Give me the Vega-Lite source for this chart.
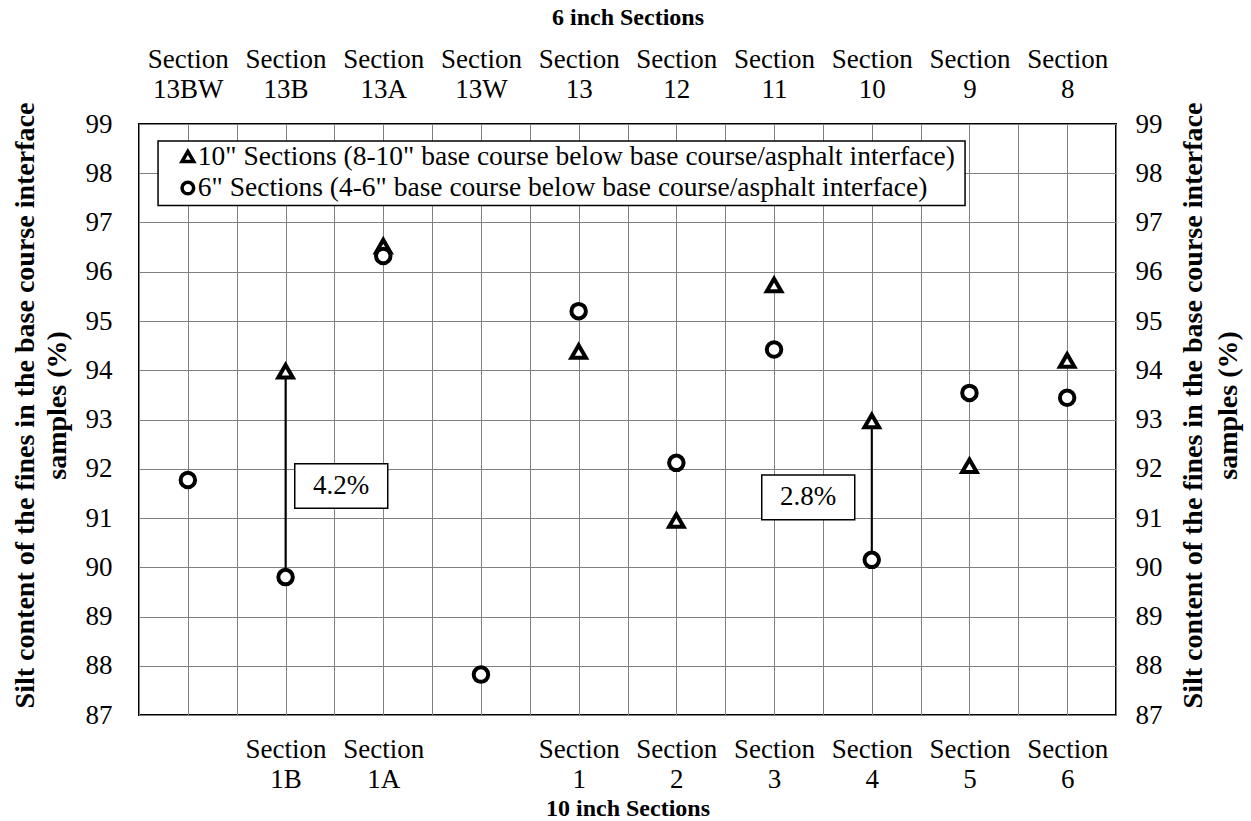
{
  "$schema": "https://vega.github.io/schema/vega-lite/v6.json",
  "width": 977,
  "height": 591,
  "autosize": {"type": "none"},
  "padding": {"left": 139, "top": 124, "right": 135, "bottom": 106},
  "background": "white",
  "config": {
    "font": "Liberation Serif",
    "view": {"stroke": "black", "strokeWidth": 2}
  },
  "datasets": {
    "points": [
      {"pos": 3, "section": "1B", "series": "10\" Sections (8-10\" base course below base course/asphalt interface)", "value": 93.98},
      {"pos": 5, "section": "1A", "series": "10\" Sections (8-10\" base course below base course/asphalt interface)", "value": 96.52},
      {"pos": 9, "section": "1", "series": "10\" Sections (8-10\" base course below base course/asphalt interface)", "value": 94.38},
      {"pos": 11, "section": "2", "series": "10\" Sections (8-10\" base course below base course/asphalt interface)", "value": 90.95},
      {"pos": 13, "section": "3", "series": "10\" Sections (8-10\" base course below base course/asphalt interface)", "value": 95.73},
      {"pos": 15, "section": "4", "series": "10\" Sections (8-10\" base course below base course/asphalt interface)", "value": 92.97},
      {"pos": 17, "section": "5", "series": "10\" Sections (8-10\" base course below base course/asphalt interface)", "value": 92.06},
      {"pos": 19, "section": "6", "series": "10\" Sections (8-10\" base course below base course/asphalt interface)", "value": 94.2},
      {"pos": 1, "section": "13BW", "series": "6\" Sections (4-6\" base course below base course/asphalt interface)", "value": 91.77},
      {"pos": 3, "section": "13B", "series": "6\" Sections (4-6\" base course below base course/asphalt interface)", "value": 89.8},
      {"pos": 5, "section": "13A", "series": "6\" Sections (4-6\" base course below base course/asphalt interface)", "value": 96.32},
      {"pos": 7, "section": "13W", "series": "6\" Sections (4-6\" base course below base course/asphalt interface)", "value": 87.82},
      {"pos": 9, "section": "13", "series": "6\" Sections (4-6\" base course below base course/asphalt interface)", "value": 95.2},
      {"pos": 11, "section": "12", "series": "6\" Sections (4-6\" base course below base course/asphalt interface)", "value": 92.12},
      {"pos": 13, "section": "11", "series": "6\" Sections (4-6\" base course below base course/asphalt interface)", "value": 94.42},
      {"pos": 15, "section": "10", "series": "6\" Sections (4-6\" base course below base course/asphalt interface)", "value": 90.15},
      {"pos": 17, "section": "9", "series": "6\" Sections (4-6\" base course below base course/asphalt interface)", "value": 93.54},
      {"pos": 19, "section": "8", "series": "6\" Sections (4-6\" base course below base course/asphalt interface)", "value": 93.44}
    ],
    "boxes": [
      {"pos": 4.14, "value": 91.65, "label": "4.2%"},
      {"pos": 13.7, "value": 91.42, "label": "2.8%"}
    ],
    "legendbox": [
      {"pos": 8.65, "value": 98.0}
    ],
    "legend": [
      {"pos": 1.0, "value": 98.34, "series": "10\" Sections (8-10\" base course below base course/asphalt interface)"},
      {"pos": 1.0, "value": 97.7, "series": "6\" Sections (4-6\" base course below base course/asphalt interface)"}
    ]
  },
  "resolve": {"axis": {"x": "independent", "y": "independent"}},
  "layer": [
    {
      "data": {"name": "points"},
      "transform": [
        {"filter": "datum.pos == 3 || datum.pos == 15"},
        {"aggregate": [{"op": "min", "field": "value", "as": "lo"}, {"op": "max", "field": "value", "as": "hi"}], "groupby": ["pos"]}
      ],
      "mark": {"type": "rule", "color": "black", "strokeWidth": 2},
      "encoding": {
        "x": {
          "field": "pos", "type": "quantitative",
          "scale": {"domain": [0, 20], "nice": false, "zero": false},
          "axis": {
            "orient": "top",
            "values": [1, 3, 5, 7, 9, 11, 13, 15, 17, 19],
            "grid": false, "ticks": false, "domain": false,
            "labelExpr": "['Section', ['13BW','13B','13A','13W','13','12','11','10','9','8'][(datum.value - 1) / 2]]",
            "labelFont": "Liberation Serif", "labelFontSize": 27, "labelColor": "black",
            "labelPadding": 51, "labelLineHeight": 30,
            "labelOverlap": false, "labelFlush": false, "labelBound": false,
            "title": "6 inch Sections",
            "titleFont": "Liberation Serif", "titleFontSize": 24, "titleFontWeight": "bold", "titleColor": "black",
            "titleX": 488.5, "titleY": -107, "titleAlign": "center", "titleBaseline": "middle"
          }
        },
        "y": {
          "field": "lo", "type": "quantitative",
          "scale": {"domain": [87, 99], "nice": false, "zero": false},
          "axis": {
            "orient": "right",
            "values": [87, 88, 89, 90, 91, 92, 93, 94, 95, 96, 97, 98, 99],
            "grid": false, "ticks": false, "domain": false,
            "labelFont": "Liberation Serif", "labelFontSize": 27, "labelColor": "black",
            "labelPadding": 19, "labelOverlap": false, "labelFlush": false,
            "title": ["Silt content of the fines in the base course interface", "samples (%)"],
            "titleFont": "Liberation Serif", "titleFontSize": 28, "titleFontWeight": "bold", "titleColor": "black",
            "titleAngle": 270, "titleLineHeight": 35,
            "titleX": 77, "titleY": 281, "titleAlign": "center", "titleBaseline": "middle"
          }
        },
        "y2": {"field": "hi"}
      }
    },
    {
      "data": {"name": "points"},
      "mark": {"type": "point", "filled": false, "fill": "white", "stroke": "black", "strokeWidth": 4, "strokeJoin": "miter", "size": 210, "opacity": 1, "fillOpacity": 1, "strokeOpacity": 1},
      "encoding": {
        "x": {
          "field": "pos", "type": "quantitative",
          "scale": {"domain": [0, 20], "nice": false, "zero": false},
          "axis": {
            "orient": "bottom",
            "values": [0, 1, 2, 3, 4, 5, 6, 7, 8, 9, 10, 11, 12, 13, 14, 15, 16, 17, 18, 19, 20],
            "grid": true, "gridColor": "#808080", "gridWidth": 1, "gridOpacity": 1,
            "ticks": false, "domain": false,
            "labelExpr": "indexof([3,5,9,11,13,15,17,19], datum.value) >= 0 ? ['Section', ['','1B','1A','','1','2','3','4','5','6'][(datum.value - 1) / 2]] : ''",
            "labelFont": "Liberation Serif", "labelFontSize": 27, "labelColor": "black",
            "labelPadding": 21, "labelLineHeight": 30,
            "labelOverlap": false, "labelFlush": false, "labelBound": false,
            "title": "10 inch Sections",
            "titleFont": "Liberation Serif", "titleFontSize": 24, "titleFontWeight": "bold", "titleColor": "black",
            "titleX": 488.5, "titleY": 93, "titleAlign": "center", "titleBaseline": "middle"
          }
        },
        "y": {
          "field": "value", "type": "quantitative",
          "scale": {"domain": [87, 99], "nice": false, "zero": false},
          "axis": {
            "orient": "left",
            "values": [87, 88, 89, 90, 91, 92, 93, 94, 95, 96, 97, 98, 99],
            "grid": true, "gridColor": "#808080", "gridWidth": 1, "gridOpacity": 1,
            "ticks": false, "domain": false,
            "labelFont": "Liberation Serif", "labelFontSize": 27, "labelColor": "black",
            "labelPadding": 27, "labelOverlap": false, "labelFlush": false,
            "title": ["Silt content of the fines in the base course interface", "samples (%)"],
            "titleFont": "Liberation Serif", "titleFontSize": 28, "titleFontWeight": "bold", "titleColor": "black",
            "titleAngle": 270, "titleLineHeight": 32,
            "titleX": -114, "titleY": 281, "titleAlign": "center", "titleBaseline": "middle"
          }
        },
        "shape": {
          "field": "series", "type": "nominal",
          "scale": {
            "domain": ["10\" Sections (8-10\" base course below base course/asphalt interface)", "6\" Sections (4-6\" base course below base course/asphalt interface)"],
            "range": ["triangle-up", "circle"]
          },
          "legend": null
        }
      }
    },
    {
      "data": {"name": "boxes"},
      "mark": {"type": "point", "shape": "M-1,-0.48H1V0.48H-1Z", "size": 8649, "filled": true, "fill": "white", "stroke": "black", "strokeWidth": 1.5, "opacity": 1},
      "encoding": {
        "x": {"field": "pos", "type": "quantitative", "scale": {"domain": [0, 20], "nice": false, "zero": false}, "axis": null},
        "y": {"field": "value", "type": "quantitative", "scale": {"domain": [87, 99], "nice": false, "zero": false}, "axis": null}
      }
    },
    {
      "data": {"name": "boxes"},
      "mark": {"type": "text", "font": "Liberation Serif", "fontSize": 27, "color": "black", "align": "center", "baseline": "middle"},
      "encoding": {
        "x": {"field": "pos", "type": "quantitative", "scale": {"domain": [0, 20], "nice": false, "zero": false}, "axis": null},
        "y": {"field": "value", "type": "quantitative", "scale": {"domain": [87, 99], "nice": false, "zero": false}, "axis": null},
        "text": {"field": "label"}
      }
    },
    {
      "data": {"name": "legendbox"},
      "mark": {"type": "point", "shape": "M-1,-0.0797H1V0.0797H-1Z", "size": 651249, "filled": true, "fill": "white", "stroke": "black", "strokeWidth": 1.5, "opacity": 1},
      "encoding": {
        "x": {"field": "pos", "type": "quantitative", "scale": {"domain": [0, 20], "nice": false, "zero": false}, "axis": null},
        "y": {"field": "value", "type": "quantitative", "scale": {"domain": [87, 99], "nice": false, "zero": false}, "axis": null}
      }
    },
    {
      "data": {"name": "legend"},
      "mark": {"type": "point", "filled": false, "fill": "white", "stroke": "black", "strokeWidth": 3.5, "strokeJoin": "miter", "size": 135, "opacity": 1, "fillOpacity": 1},
      "encoding": {
        "x": {"field": "pos", "type": "quantitative", "scale": {"domain": [0, 20], "nice": false, "zero": false}, "axis": null},
        "y": {"field": "value", "type": "quantitative", "scale": {"domain": [87, 99], "nice": false, "zero": false}, "axis": null},
        "shape": {"field": "series", "type": "nominal", "legend": null}
      }
    },
    {
      "data": {"name": "legend"},
      "mark": {"type": "text", "font": "Liberation Serif", "fontSize": 27.5, "color": "black", "align": "left", "baseline": "middle", "dx": 10},
      "encoding": {
        "x": {"field": "pos", "type": "quantitative", "scale": {"domain": [0, 20], "nice": false, "zero": false}, "axis": null},
        "y": {"field": "value", "type": "quantitative", "scale": {"domain": [87, 99], "nice": false, "zero": false}, "axis": null},
        "text": {"field": "series"}
      }
    }
  ]
}
